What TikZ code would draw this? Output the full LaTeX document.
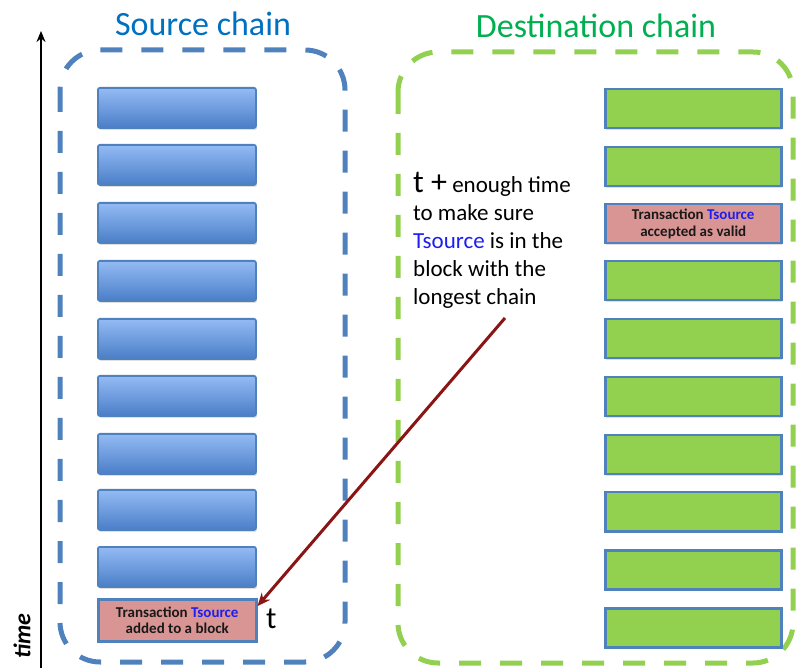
\documentclass[tikz,border=0pt]{standalone}
\usepackage{fontspec}
\setmainfont{Carlito}
\usetikzlibrary{arrows.meta,shadows,calc}
\definecolor{srcblue}{RGB}{0,112,192}
\definecolor{dstgreen}{RGB}{0,176,80}
\definecolor{dashblue}{RGB}{79,129,189}
\definecolor{dashgreen}{RGB}{146,208,80}
\definecolor{blocktop}{RGB}{148,187,244}
\definecolor{blockbot}{RGB}{74,126,200}
\definecolor{blockedge}{RGB}{79,129,189}
\definecolor{greenfill}{RGB}{146,208,80}
\definecolor{pinkfill}{RGB}{217,149,148}
\definecolor{arrowred}{RGB}{139,20,20}
\definecolor{tsblue}{RGB}{30,30,240}
\tikzset{
  chainbox/.style={line width=5pt, rounded corners=40pt, dash pattern=on 22pt off 19pt},
  srcblock/.style={anchor=north west, minimum width=158pt, minimum height=40pt, inner sep=0pt,
    draw=blockedge, line width=1.8pt, rounded corners=2pt, top color=blocktop, bottom color=blockbot,
    drop shadow={shadow xshift=1pt, shadow yshift=-2pt, opacity=0.25}},
  dstblock/.style={anchor=north west, minimum width=176pt, minimum height=39pt, inner sep=0pt,
    draw=blockedge, line width=2.5pt, fill=greenfill,
    drop shadow={shadow xshift=1pt, shadow yshift=-2pt, opacity=0.25}},
  txblock/.style={anchor=north west, inner sep=0pt, draw=blockedge, line width=2.5pt, fill=pinkfill,
    align=center, font=\fontsize{15}{16.5}\selectfont\bfseries, text=black!90,
    drop shadow={shadow xshift=1pt, shadow yshift=-2pt, opacity=0.25}},
  title/.style={anchor=base, font=\fontsize{34}{40}\selectfont},
}
\begin{document}
\begin{tikzpicture}[x=1pt,y=-1pt]
\path[use as bounding box] (0,0) rectangle (796,668);
% time axis
\coordinate (tbot) at (41,668);
\coordinate (ttop) at (41,31);
\draw[line width=2.2pt, -{Stealth[length=11pt,width=9pt]}] (tbot) -- (ttop);
\node[rotate=90, font=\fontsize{24}{28}\selectfont\bfseries\itshape] (timelbl) at (22,636) {time};
% chain boxes
\draw[chainbox, draw=dashblue] (60,50) rectangle (345,662);
\draw[chainbox, draw=dashgreen] (398,52) rectangle (793,663);
% titles
\node[title, text=srcblue] (srctitle) at (203,36) {Source chain};
\node[title, text=dstgreen] (dsttitle) at (596,38) {Destination chain};
% source blocks
\foreach \yy [count=\i] in {87,144,202,260,318,375,433,489,546}
  \node[srcblock] (s\i) at (97,\yy) {};
\node[txblock, minimum width=158pt, minimum height=42pt] (tx) at (97,598)
  {Transaction \textcolor{tsblue}{Tsource}\\added to a block};
% destination blocks
\foreach \yy [count=\i] in {88,146,260,318,376,434,491,549,607}
  \node[dstblock] (d\i) at (604,\yy) {};
\node[txblock, minimum width=176pt, minimum height=39pt] (acc) at (604,203)
  {Transaction \textcolor{tsblue}{Tsource}\\accepted as valid};
% note text
\node[anchor=north west, inner sep=0pt, align=left, font=\fontsize{23}{28}\selectfont] (note) at (413,172)
  {{\fontsize{32}{28}\selectfont t +} enough time\\to make sure\\\textcolor{tsblue}{Tsource} is in the\\block with the\\longest chain};
% t label
\node[anchor=base west, inner sep=0pt, font=\fontsize{31}{34}\selectfont] (tlbl) at (266,628) {t};
% arrow
\coordinate (astart) at (505,318);
\draw[arrowred, line width=3pt, -{Stealth[length=13pt,width=11pt]}] (astart) -- (tx.10);
\end{tikzpicture}
\end{document}
